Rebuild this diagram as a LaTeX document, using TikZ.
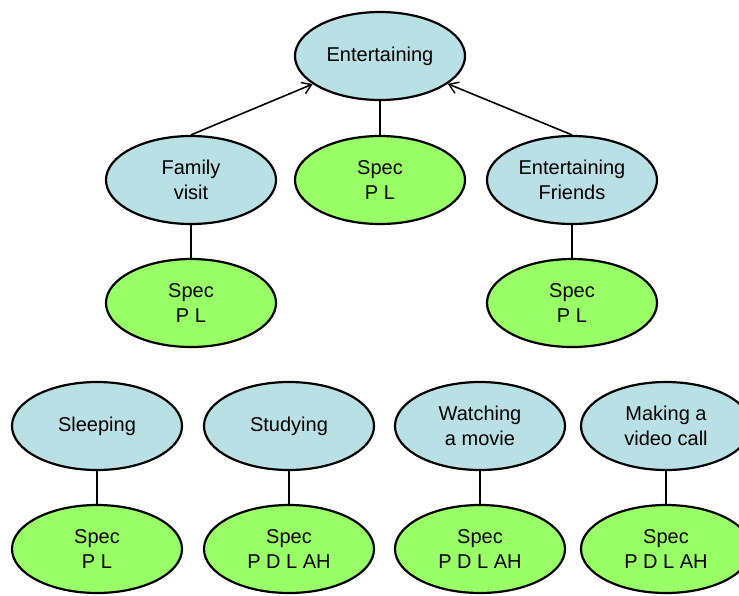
\documentclass[tikz,border=0pt]{standalone}
\usepackage{fontspec}
\setmainfont{Liberation Sans}
\usetikzlibrary{shapes.geometric,arrows.meta}
\definecolor{actblue}{RGB}{185,224,228}
\definecolor{specgreen}{RGB}{153,255,102}
\tikzset{
  bubble/.style={ellipse, draw=black, line width=2.2pt, minimum width=170pt,
    minimum height=88pt, inner sep=0pt, align=center,
    font=\fontsize{20}{24.5}\selectfont},
  activity/.style={bubble, fill=actblue},
  spec/.style={bubble, fill=specgreen},
  link/.style={line width=1.8pt},
  feeds/.style={line width=1.6pt, -{Straight Barb[length=9pt,width=12pt,line width=1.4pt]}}
}
\begin{document}
\begin{tikzpicture}[x=1pt,y=-1pt]
\useasboundingbox (0,0) rectangle (739,595);
\clip (0,0) rectangle (739,595);
% top concept
\node[activity] (ent) at (380,56) {Entertaining};
% second row
\node[activity] (fam) at (191,180) {Family\\visit};
\node[spec] (sent) at (380,180) {Spec\\P L};
\node[activity] (fri) at (572,180) {Entertaining\\Friends};
% third row
\node[spec] (sfam) at (191,303) {Spec\\P L};
\node[spec] (sfri) at (572,303) {Spec\\P L};
% separate activities
\node[activity] (sle) at (97,426) {Sleeping};
\node[activity] (stu) at (289,426) {Studying};
\node[activity] (wat) at (480,426) {Watching\\a movie};
\node[activity] (mak) at (666,426) {Making a\\video call};
\node[spec] (ssle) at (97,549) {Spec\\P L};
\node[spec] (sstu) at (289,549) {Spec\\P D L AH};
\node[spec] (swat) at (480,549) {Spec\\P D L AH};
\node[spec] (smak) at (666,549) {Spec\\P D L AH};
% connectors
\draw[feeds] (fam.north) -- (ent);
\draw[feeds] (fri.north) -- (ent);
\draw[link] (ent.south) -- (sent.north);
\draw[link] (fam.south) -- (sfam.north);
\draw[link] (fri.south) -- (sfri.north);
\draw[link] (sle.south) -- (ssle.north);
\draw[link] (stu.south) -- (sstu.north);
\draw[link] (wat.south) -- (swat.north);
\draw[link] (mak.south) -- (smak.north);
\end{tikzpicture}
\end{document}
